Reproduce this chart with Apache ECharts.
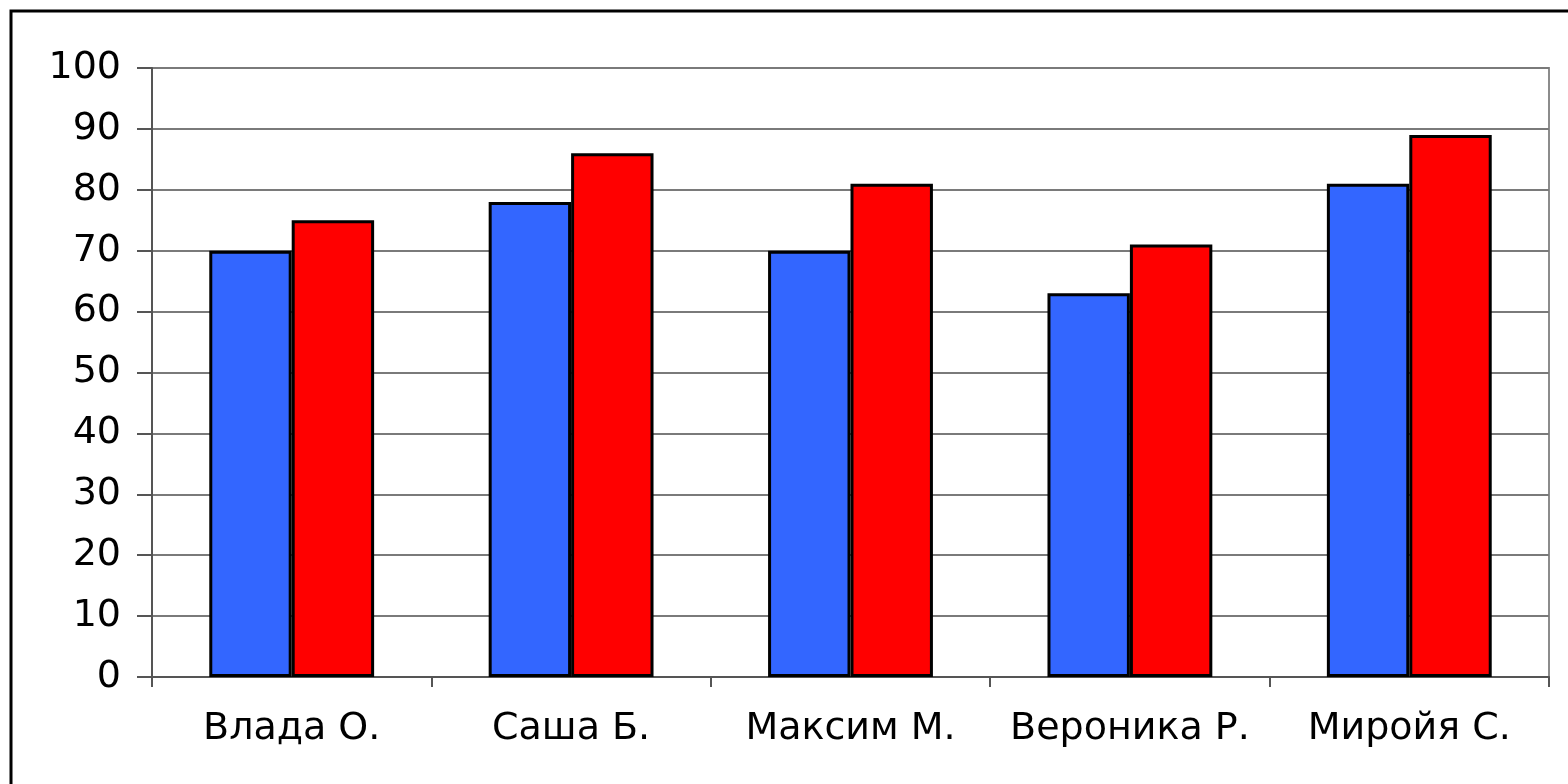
<!DOCTYPE html>
<html>
<head>
<meta charset="utf-8">
<script src="https://cdn.jsdelivr.net/npm/echarts@6/dist/echarts.min.js"></script>
<style>
  html, body { margin: 0; padding: 0; background: #fff; }
  #chart { width: 1568px; height: 784px; }
</style>
</head>
<body>
<div id="chart"></div>
<script>
// данные
var names = ['Влада О.', 'Саша Б.', 'Максим М.', 'Вероника Р.', 'Миройя С.'];
var blueVals = [70, 78, 70, 63, 81];
var redVals = [75, 86, 81, 71, 89];
var yTicks = [0, 10, 20, 30, 40, 50, 60, 70, 80, 90, 100];

var font = 'DejaVu Sans';
var myChart = echarts.init(document.getElementById('chart'));

myChart.setOption({
  animation: false,
  backgroundColor: '#fff',
  // рамка вокруг всей диаграммы
  graphic: [{
    type: 'rect',
    shape: { x: 11, y: 11, width: 1570, height: 790 },
    style: { fill: 'none', stroke: '#000', lineWidth: 3 },
    z: 100
  }],
  grid: {
    left: 152, right: 19, top: 68, bottom: 107,
    show: true, borderColor: '#8c8c8c', borderWidth: 2
  },
  xAxis: {
    type: 'category',
    data: names,
    axisLine: { lineStyle: { color: '#555', width: 2 } },
    axisTick: { show: true, interval: 0, length: 10, alignWithLabel: false, lineStyle: { color: '#555', width: 2 } },
    axisLabel: { interval: 0, color: '#000', fontFamily: font, fontSize: 38, margin: 33 }
  },
  yAxis: {
    type: 'value',
    min: 0, max: 100, interval: 10,
    axisLine: { show: true, lineStyle: { color: '#555', width: 2 } },
    axisTick: { show: true, length: 15, lineStyle: { color: '#555', width: 2 } },
    axisLabel: {
      color: '#000', fontFamily: font, fontSize: 38, margin: 31,
      formatter: function (v) { return yTicks.indexOf(v) >= 0 ? String(v) : ''; }
    },
    splitLine: { lineStyle: { color: '#7a7a7a', width: 2 } }
  },
  series: [{
    type: 'bar',
    data: blueVals,
    barGap: '0%',
    barCategoryGap: '41%',
    itemStyle: { color: '#3366ff', borderColor: '#000', borderWidth: 3 }
  }, {
    type: 'bar',
    data: redVals,
    itemStyle: { color: '#ff0000', borderColor: '#000', borderWidth: 3 }
  }]
});
</script>
</body>
</html>
